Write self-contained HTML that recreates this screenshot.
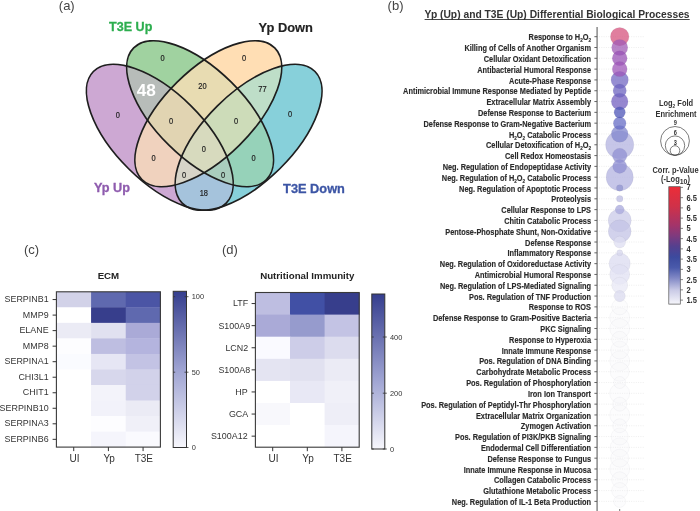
<!DOCTYPE html>
<html><head><meta charset="utf-8"><style>
html,body{margin:0;padding:0;background:#fff;}
svg{display:block;will-change:transform;}
</style></head><body>
<svg width="700" height="511" viewBox="0 0 700 511" font-family="Liberation Sans, sans-serif">
<rect width="700" height="511" fill="#fff"/>
<defs><clipPath id="cP"><ellipse cx="0" cy="0" rx="93.5" ry="44.3" transform="translate(159.80,137.30) rotate(44.74)" /></clipPath><clipPath id="cG"><ellipse cx="0" cy="0" rx="93.5" ry="44.3" transform="translate(200.10,113.70) rotate(44.73)" /></clipPath><clipPath id="cO"><ellipse cx="0" cy="0" rx="93.5" ry="44.3" transform="translate(208.30,113.70) rotate(-44.73)" /></clipPath><clipPath id="cC"><ellipse cx="0" cy="0" rx="93.5" ry="44.3" transform="translate(248.60,137.30) rotate(-44.74)" /></clipPath></defs>
<ellipse cx="0" cy="0" rx="93.5" ry="44.3" transform="translate(159.80,137.30) rotate(44.74)" fill="#CDA8D3"/>
<ellipse cx="0" cy="0" rx="93.5" ry="44.3" transform="translate(200.10,113.70) rotate(44.73)" fill="#A0D2A0"/>
<ellipse cx="0" cy="0" rx="93.5" ry="44.3" transform="translate(208.30,113.70) rotate(-44.73)" fill="#FFDEB4"/>
<ellipse cx="0" cy="0" rx="93.5" ry="44.3" transform="translate(248.60,137.30) rotate(-44.74)" fill="#87D0DA"/>
<g clip-path="url(#cG)"><ellipse cx="0" cy="0" rx="93.5" ry="44.3" transform="translate(159.80,137.30) rotate(44.74)" fill="#B7BCB9"/></g>
<g clip-path="url(#cO)"><ellipse cx="0" cy="0" rx="93.5" ry="44.3" transform="translate(159.80,137.30) rotate(44.74)" fill="#F0D2BE"/></g>
<g clip-path="url(#cC)"><ellipse cx="0" cy="0" rx="93.5" ry="44.3" transform="translate(159.80,137.30) rotate(44.74)" fill="#A5C3DC"/></g>
<g clip-path="url(#cO)"><ellipse cx="0" cy="0" rx="93.5" ry="44.3" transform="translate(200.10,113.70) rotate(44.73)" fill="#E8DCB2"/></g>
<g clip-path="url(#cC)"><ellipse cx="0" cy="0" rx="93.5" ry="44.3" transform="translate(200.10,113.70) rotate(44.73)" fill="#96D2B9"/></g>
<g clip-path="url(#cC)"><ellipse cx="0" cy="0" rx="93.5" ry="44.3" transform="translate(208.30,113.70) rotate(-44.73)" fill="#BEDEC8"/></g>
<g clip-path="url(#cO)"><g clip-path="url(#cG)"><ellipse cx="0" cy="0" rx="93.5" ry="44.3" transform="translate(159.80,137.30) rotate(44.74)" fill="#E1D4B2"/></g></g>
<g clip-path="url(#cC)"><g clip-path="url(#cG)"><ellipse cx="0" cy="0" rx="93.5" ry="44.3" transform="translate(159.80,137.30) rotate(44.74)" fill="#AACDBE"/></g></g>
<g clip-path="url(#cC)"><g clip-path="url(#cO)"><ellipse cx="0" cy="0" rx="93.5" ry="44.3" transform="translate(159.80,137.30) rotate(44.74)" fill="#D7D4C8"/></g></g>
<g clip-path="url(#cC)"><g clip-path="url(#cO)"><ellipse cx="0" cy="0" rx="93.5" ry="44.3" transform="translate(200.10,113.70) rotate(44.73)" fill="#CDDCB9"/></g></g>
<g clip-path="url(#cC)"><g clip-path="url(#cO)"><g clip-path="url(#cG)"><ellipse cx="0" cy="0" rx="93.5" ry="44.3" transform="translate(159.80,137.30) rotate(44.74)" fill="#D7DABE"/></g></g></g>
<ellipse cx="0" cy="0" rx="93.5" ry="44.3" transform="translate(159.80,137.30) rotate(44.74)" fill="none" stroke="#1e1e1e" stroke-width="1.7"/>
<ellipse cx="0" cy="0" rx="93.5" ry="44.3" transform="translate(200.10,113.70) rotate(44.73)" fill="none" stroke="#1e1e1e" stroke-width="1.7"/>
<ellipse cx="0" cy="0" rx="93.5" ry="44.3" transform="translate(208.30,113.70) rotate(-44.73)" fill="none" stroke="#1e1e1e" stroke-width="1.7"/>
<ellipse cx="0" cy="0" rx="93.5" ry="44.3" transform="translate(248.60,137.30) rotate(-44.74)" fill="none" stroke="#1e1e1e" stroke-width="1.7"/>
<text x="0" y="60.70" font-size="8.9" fill="#222" stroke="#222" stroke-width="0.2" text-anchor="middle" transform="translate(162.5,0) scale(0.84,1)" font-family="Liberation Sans, sans-serif">0</text>
<text x="0" y="61.10" font-size="8.9" fill="#222" stroke="#222" stroke-width="0.2" text-anchor="middle" transform="translate(244.1,0) scale(0.84,1)" font-family="Liberation Sans, sans-serif">0</text>
<text x="0" y="117.70" font-size="8.9" fill="#222" stroke="#222" stroke-width="0.2" text-anchor="middle" transform="translate(117.8,0) scale(0.84,1)" font-family="Liberation Sans, sans-serif">0</text>
<text x="0" y="117.20" font-size="8.9" fill="#222" stroke="#222" stroke-width="0.2" text-anchor="middle" transform="translate(290,0) scale(0.84,1)" font-family="Liberation Sans, sans-serif">0</text>
<text x="0" y="89.20" font-size="8.9" fill="#222" stroke="#222" stroke-width="0.2" text-anchor="middle" transform="translate(202.5,0) scale(0.84,1)" font-family="Liberation Sans, sans-serif">20</text>
<text x="0" y="92.20" font-size="8.9" fill="#222" stroke="#222" stroke-width="0.2" text-anchor="middle" transform="translate(262.5,0) scale(0.84,1)" font-family="Liberation Sans, sans-serif">77</text>
<text x="0" y="124.20" font-size="8.9" fill="#222" stroke="#222" stroke-width="0.2" text-anchor="middle" transform="translate(171,0) scale(0.84,1)" font-family="Liberation Sans, sans-serif">0</text>
<text x="0" y="124.20" font-size="8.9" fill="#222" stroke="#222" stroke-width="0.2" text-anchor="middle" transform="translate(236,0) scale(0.84,1)" font-family="Liberation Sans, sans-serif">0</text>
<text x="0" y="161.20" font-size="8.9" fill="#222" stroke="#222" stroke-width="0.2" text-anchor="middle" transform="translate(153.5,0) scale(0.84,1)" font-family="Liberation Sans, sans-serif">0</text>
<text x="0" y="152.20" font-size="8.9" fill="#222" stroke="#222" stroke-width="0.2" text-anchor="middle" transform="translate(203.8,0) scale(0.84,1)" font-family="Liberation Sans, sans-serif">0</text>
<text x="0" y="161.20" font-size="8.9" fill="#222" stroke="#222" stroke-width="0.2" text-anchor="middle" transform="translate(253.5,0) scale(0.84,1)" font-family="Liberation Sans, sans-serif">0</text>
<text x="0" y="178.20" font-size="8.9" fill="#222" stroke="#222" stroke-width="0.2" text-anchor="middle" transform="translate(184,0) scale(0.84,1)" font-family="Liberation Sans, sans-serif">0</text>
<text x="0" y="178.20" font-size="8.9" fill="#222" stroke="#222" stroke-width="0.2" text-anchor="middle" transform="translate(223,0) scale(0.84,1)" font-family="Liberation Sans, sans-serif">0</text>
<text x="0" y="196.20" font-size="8.9" fill="#222" stroke="#222" stroke-width="0.2" text-anchor="middle" transform="translate(203.8,0) scale(0.84,1)" font-family="Liberation Sans, sans-serif">18</text>
<text x="146.2" y="96.4" font-size="17.2" font-weight="bold" fill="#fff" text-anchor="middle" font-family="Liberation Sans, sans-serif">48</text>
<text x="58.8" y="10.1" font-size="13" fill="#444" font-family="Liberation Sans, sans-serif">(a)</text>
<text x="109.1" y="30.5" font-size="13.6" font-weight="bold" fill="#2DAE4F" stroke="#2DAE4F" stroke-width="0.3" textLength="43.2" lengthAdjust="spacingAndGlyphs" font-family="Liberation Sans, sans-serif">T3E Up</text>
<text x="258.6" y="32.1" font-size="12.9" font-weight="bold" fill="#222" stroke="#222" stroke-width="0.15" textLength="54.4" lengthAdjust="spacingAndGlyphs" font-family="Liberation Sans, sans-serif">Yp Down</text>
<text x="94" y="191.7" font-size="13.1" font-weight="bold" fill="#8E5BAE" stroke="#8E5BAE" stroke-width="0.3" textLength="36" lengthAdjust="spacingAndGlyphs" font-family="Liberation Sans, sans-serif">Yp Up</text>
<text x="283.1" y="192.7" font-size="13.2" font-weight="bold" fill="#3C55A5" stroke="#3C55A5" stroke-width="0.3" textLength="61.8" lengthAdjust="spacingAndGlyphs" font-family="Liberation Sans, sans-serif">T3E Down</text>
<defs><linearGradient id="gc" x1="0" y1="1" x2="0" y2="0"><stop offset="0" stop-color="#F7F7FC"/><stop offset="0.5" stop-color="#9EA3D2"/><stop offset="1" stop-color="#353E8E"/></linearGradient><linearGradient id="gd" x1="0" y1="1" x2="0" y2="0"><stop offset="0" stop-color="#F7F7FC"/><stop offset="0.45" stop-color="#9EA3D2"/><stop offset="1" stop-color="#353E8E"/></linearGradient></defs>
<text x="24" y="254.3" font-size="13" fill="#444" font-family="Liberation Sans, sans-serif">(c)</text>
<rect x="56.40" y="291.80" width="35.07" height="15.93" fill="#D2D2E8"/>
<rect x="91.07" y="291.80" width="35.07" height="15.93" fill="#5F69AF"/>
<rect x="125.73" y="291.80" width="35.07" height="15.93" fill="#4B55A5"/>
<rect x="56.40" y="307.33" width="35.07" height="15.93" fill="#FFFFFF"/>
<rect x="91.07" y="307.33" width="35.07" height="15.93" fill="#373E8C"/>
<rect x="125.73" y="307.33" width="35.07" height="15.93" fill="#5F69AF"/>
<rect x="56.40" y="322.86" width="35.07" height="15.93" fill="#EBEBF5"/>
<rect x="91.07" y="322.86" width="35.07" height="15.93" fill="#E1E1F0"/>
<rect x="125.73" y="322.86" width="35.07" height="15.93" fill="#AAAAD7"/>
<rect x="56.40" y="338.39" width="35.07" height="15.93" fill="#FDFDFF"/>
<rect x="91.07" y="338.39" width="35.07" height="15.93" fill="#BEBEE1"/>
<rect x="125.73" y="338.39" width="35.07" height="15.93" fill="#B4B4DE"/>
<rect x="56.40" y="353.92" width="35.07" height="15.93" fill="#FAFBFF"/>
<rect x="91.07" y="353.92" width="35.07" height="15.93" fill="#E6E6F4"/>
<rect x="125.73" y="353.92" width="35.07" height="15.93" fill="#C3C3E4"/>
<rect x="56.40" y="369.45" width="35.07" height="15.93" fill="#FFFFFF"/>
<rect x="91.07" y="369.45" width="35.07" height="15.93" fill="#D7D7EC"/>
<rect x="125.73" y="369.45" width="35.07" height="15.93" fill="#D2D2EA"/>
<rect x="56.40" y="384.98" width="35.07" height="15.93" fill="#FFFFFF"/>
<rect x="91.07" y="384.98" width="35.07" height="15.93" fill="#F3F3FA"/>
<rect x="125.73" y="384.98" width="35.07" height="15.93" fill="#D2D2EA"/>
<rect x="56.40" y="400.51" width="35.07" height="15.93" fill="#FFFFFF"/>
<rect x="91.07" y="400.51" width="35.07" height="15.93" fill="#F2F2FA"/>
<rect x="125.73" y="400.51" width="35.07" height="15.93" fill="#EBEBF5"/>
<rect x="56.40" y="416.04" width="35.07" height="15.93" fill="#FFFFFF"/>
<rect x="91.07" y="416.04" width="35.07" height="15.93" fill="#FDFDFF"/>
<rect x="125.73" y="416.04" width="35.07" height="15.93" fill="#F0F0F8"/>
<rect x="56.40" y="431.57" width="35.07" height="15.93" fill="#FFFFFF"/>
<rect x="91.07" y="431.57" width="35.07" height="15.93" fill="#F5F5FC"/>
<rect x="125.73" y="431.57" width="35.07" height="15.93" fill="#FAFAFE"/>
<rect x="56.4" y="291.8" width="104.0" height="155.3" fill="none" stroke="#3a3a3a" stroke-width="1.1"/>
<line x1="52.6" y1="299.56" x2="56.4" y2="299.56" stroke="#333" stroke-width="1"/>
<text x="0" y="302.06" font-size="9.1" fill="#333" text-anchor="end" transform="translate(48.6,0) scale(0.98,1)" font-family="Liberation Sans, sans-serif">SERPINB1</text>
<line x1="52.6" y1="315.10" x2="56.4" y2="315.10" stroke="#333" stroke-width="1"/>
<text x="0" y="317.60" font-size="9.1" fill="#333" text-anchor="end" transform="translate(48.6,0) scale(0.98,1)" font-family="Liberation Sans, sans-serif">MMP9</text>
<line x1="52.6" y1="330.62" x2="56.4" y2="330.62" stroke="#333" stroke-width="1"/>
<text x="0" y="333.12" font-size="9.1" fill="#333" text-anchor="end" transform="translate(48.6,0) scale(0.98,1)" font-family="Liberation Sans, sans-serif">ELANE</text>
<line x1="52.6" y1="346.16" x2="56.4" y2="346.16" stroke="#333" stroke-width="1"/>
<text x="0" y="348.66" font-size="9.1" fill="#333" text-anchor="end" transform="translate(48.6,0) scale(0.98,1)" font-family="Liberation Sans, sans-serif">MMP8</text>
<line x1="52.6" y1="361.69" x2="56.4" y2="361.69" stroke="#333" stroke-width="1"/>
<text x="0" y="364.19" font-size="9.1" fill="#333" text-anchor="end" transform="translate(48.6,0) scale(0.98,1)" font-family="Liberation Sans, sans-serif">SERPINA1</text>
<line x1="52.6" y1="377.22" x2="56.4" y2="377.22" stroke="#333" stroke-width="1"/>
<text x="0" y="379.72" font-size="9.1" fill="#333" text-anchor="end" transform="translate(48.6,0) scale(0.98,1)" font-family="Liberation Sans, sans-serif">CHI3L1</text>
<line x1="52.6" y1="392.75" x2="56.4" y2="392.75" stroke="#333" stroke-width="1"/>
<text x="0" y="395.25" font-size="9.1" fill="#333" text-anchor="end" transform="translate(48.6,0) scale(0.98,1)" font-family="Liberation Sans, sans-serif">CHIT1</text>
<line x1="52.6" y1="408.28" x2="56.4" y2="408.28" stroke="#333" stroke-width="1"/>
<text x="0" y="410.78" font-size="9.1" fill="#333" text-anchor="end" transform="translate(48.6,0) scale(0.98,1)" font-family="Liberation Sans, sans-serif">SERPINB10</text>
<line x1="52.6" y1="423.81" x2="56.4" y2="423.81" stroke="#333" stroke-width="1"/>
<text x="0" y="426.31" font-size="9.1" fill="#333" text-anchor="end" transform="translate(48.6,0) scale(0.98,1)" font-family="Liberation Sans, sans-serif">SERPINA3</text>
<line x1="52.6" y1="439.34" x2="56.4" y2="439.34" stroke="#333" stroke-width="1"/>
<text x="0" y="441.84" font-size="9.1" fill="#333" text-anchor="end" transform="translate(48.6,0) scale(0.98,1)" font-family="Liberation Sans, sans-serif">SERPINB6</text>
<line x1="73.73" y1="447.1" x2="73.73" y2="451.1" stroke="#333" stroke-width="1"/>
<text x="74.53" y="461.70" font-size="10" fill="#333" text-anchor="middle" font-family="Liberation Sans, sans-serif">UI</text>
<line x1="108.40" y1="447.1" x2="108.40" y2="451.1" stroke="#333" stroke-width="1"/>
<text x="109.20" y="461.70" font-size="10" fill="#333" text-anchor="middle" font-family="Liberation Sans, sans-serif">Yp</text>
<line x1="143.07" y1="447.1" x2="143.07" y2="451.1" stroke="#333" stroke-width="1"/>
<text x="143.87" y="461.70" font-size="10" fill="#333" text-anchor="middle" font-family="Liberation Sans, sans-serif">T3E</text>
<text x="108.40" y="278.6" font-size="9.7" font-weight="bold" fill="#222" text-anchor="middle" font-family="Liberation Sans, sans-serif">ECM</text>
<rect x="173.2" y="291.3" width="13.300000000000011" height="156.2" fill="url(#gc)" stroke="#333" stroke-width="1"/>
<line x1="173.2" y1="296.7" x2="175.2" y2="296.7" stroke="#333" stroke-width="0.8"/>
<line x1="184.5" y1="296.7" x2="188.5" y2="296.7" stroke="#333" stroke-width="0.8"/>
<text x="191.7" y="299.3" font-size="7.4" fill="#333" font-family="Liberation Sans, sans-serif">100</text>
<line x1="173.2" y1="372.2" x2="175.2" y2="372.2" stroke="#333" stroke-width="0.8"/>
<line x1="184.5" y1="372.2" x2="188.5" y2="372.2" stroke="#333" stroke-width="0.8"/>
<text x="191.7" y="374.8" font-size="7.4" fill="#333" font-family="Liberation Sans, sans-serif">50</text>
<line x1="173.2" y1="447.5" x2="175.2" y2="447.5" stroke="#333" stroke-width="0.8"/>
<line x1="184.5" y1="447.5" x2="188.5" y2="447.5" stroke="#333" stroke-width="0.8"/>
<text x="191.7" y="450.1" font-size="7.4" fill="#333" font-family="Liberation Sans, sans-serif">0</text>
<text x="222" y="254.3" font-size="13" fill="#444" font-family="Liberation Sans, sans-serif">(d)</text>
<rect x="255.40" y="292.50" width="35.00" height="22.50" fill="#BEBEE1"/>
<rect x="290.00" y="292.50" width="35.00" height="22.50" fill="#4150A5"/>
<rect x="324.60" y="292.50" width="35.00" height="22.50" fill="#373E8C"/>
<rect x="255.40" y="314.60" width="35.00" height="22.50" fill="#AAAAD7"/>
<rect x="290.00" y="314.60" width="35.00" height="22.50" fill="#969BCD"/>
<rect x="324.60" y="314.60" width="35.00" height="22.50" fill="#C3C3E4"/>
<rect x="255.40" y="336.70" width="35.00" height="22.50" fill="#FAFAFF"/>
<rect x="290.00" y="336.70" width="35.00" height="22.50" fill="#CDCDE8"/>
<rect x="324.60" y="336.70" width="35.00" height="22.50" fill="#DCDCEE"/>
<rect x="255.40" y="358.80" width="35.00" height="22.50" fill="#E4E4F2"/>
<rect x="290.00" y="358.80" width="35.00" height="22.50" fill="#E1E1F0"/>
<rect x="324.60" y="358.80" width="35.00" height="22.50" fill="#EBEBF5"/>
<rect x="255.40" y="380.90" width="35.00" height="22.50" fill="#FFFFFF"/>
<rect x="290.00" y="380.90" width="35.00" height="22.50" fill="#E8E8F5"/>
<rect x="324.60" y="380.90" width="35.00" height="22.50" fill="#F0F0F8"/>
<rect x="255.40" y="403.00" width="35.00" height="22.50" fill="#F8F8FC"/>
<rect x="290.00" y="403.00" width="35.00" height="22.50" fill="#FFFFFF"/>
<rect x="324.60" y="403.00" width="35.00" height="22.50" fill="#EEEEF7"/>
<rect x="255.40" y="425.10" width="35.00" height="22.50" fill="#FFFFFF"/>
<rect x="290.00" y="425.10" width="35.00" height="22.50" fill="#FFFFFF"/>
<rect x="324.60" y="425.10" width="35.00" height="22.50" fill="#F5F5FC"/>
<rect x="255.4" y="292.5" width="103.79999999999998" height="154.7" fill="none" stroke="#3a3a3a" stroke-width="1.1"/>
<line x1="251.6" y1="303.55" x2="255.4" y2="303.55" stroke="#333" stroke-width="1"/>
<text x="0" y="306.45" font-size="9.1" fill="#333" text-anchor="end" transform="translate(248.2,0) scale(0.98,1)" font-family="Liberation Sans, sans-serif">LTF</text>
<line x1="251.6" y1="325.65" x2="255.4" y2="325.65" stroke="#333" stroke-width="1"/>
<text x="0" y="328.55" font-size="9.1" fill="#333" text-anchor="end" transform="translate(250.1,0) scale(0.98,1)" font-family="Liberation Sans, sans-serif">S100A9</text>
<line x1="251.6" y1="347.75" x2="255.4" y2="347.75" stroke="#333" stroke-width="1"/>
<text x="0" y="350.65" font-size="9.1" fill="#333" text-anchor="end" transform="translate(248.2,0) scale(0.98,1)" font-family="Liberation Sans, sans-serif">LCN2</text>
<line x1="251.6" y1="369.85" x2="255.4" y2="369.85" stroke="#333" stroke-width="1"/>
<text x="0" y="372.75" font-size="9.1" fill="#333" text-anchor="end" transform="translate(250.1,0) scale(0.98,1)" font-family="Liberation Sans, sans-serif">S100A8</text>
<line x1="251.6" y1="391.95" x2="255.4" y2="391.95" stroke="#333" stroke-width="1"/>
<text x="0" y="394.85" font-size="9.1" fill="#333" text-anchor="end" transform="translate(247.6,0) scale(0.98,1)" font-family="Liberation Sans, sans-serif">HP</text>
<line x1="251.6" y1="414.05" x2="255.4" y2="414.05" stroke="#333" stroke-width="1"/>
<text x="0" y="416.95" font-size="9.1" fill="#333" text-anchor="end" transform="translate(248.2,0) scale(0.98,1)" font-family="Liberation Sans, sans-serif">GCA</text>
<line x1="251.6" y1="436.15" x2="255.4" y2="436.15" stroke="#333" stroke-width="1"/>
<text x="0" y="439.05" font-size="9.1" fill="#333" text-anchor="end" transform="translate(247.6,0) scale(0.98,1)" font-family="Liberation Sans, sans-serif">S100A12</text>
<line x1="272.70" y1="447.2" x2="272.70" y2="451.2" stroke="#333" stroke-width="1"/>
<text x="273.50" y="461.80" font-size="10" fill="#333" text-anchor="middle" font-family="Liberation Sans, sans-serif">UI</text>
<line x1="307.30" y1="447.2" x2="307.30" y2="451.2" stroke="#333" stroke-width="1"/>
<text x="308.10" y="461.80" font-size="10" fill="#333" text-anchor="middle" font-family="Liberation Sans, sans-serif">Yp</text>
<line x1="341.90" y1="447.2" x2="341.90" y2="451.2" stroke="#333" stroke-width="1"/>
<text x="342.70" y="461.80" font-size="10" fill="#333" text-anchor="middle" font-family="Liberation Sans, sans-serif">T3E</text>
<text x="307.30" y="278.7" font-size="9.7" font-weight="bold" fill="#222" text-anchor="middle" font-family="Liberation Sans, sans-serif">Nutritional Immunity</text>
<rect x="371.8" y="294" width="13.0" height="155" fill="url(#gd)" stroke="#333" stroke-width="1"/>
<line x1="371.8" y1="337" x2="373.8" y2="337" stroke="#333" stroke-width="0.8"/>
<line x1="382.8" y1="337" x2="386.8" y2="337" stroke="#333" stroke-width="0.8"/>
<text x="390.0" y="339.6" font-size="7.4" fill="#333" font-family="Liberation Sans, sans-serif">400</text>
<line x1="371.8" y1="393.2" x2="373.8" y2="393.2" stroke="#333" stroke-width="0.8"/>
<line x1="382.8" y1="393.2" x2="386.8" y2="393.2" stroke="#333" stroke-width="0.8"/>
<text x="390.0" y="395.8" font-size="7.4" fill="#333" font-family="Liberation Sans, sans-serif">200</text>
<line x1="371.8" y1="449" x2="373.8" y2="449" stroke="#333" stroke-width="0.8"/>
<line x1="382.8" y1="449" x2="386.8" y2="449" stroke="#333" stroke-width="0.8"/>
<text x="390.0" y="451.6" font-size="7.4" fill="#333" font-family="Liberation Sans, sans-serif">0</text>
<text x="387.6" y="10" font-size="13" fill="#444" font-family="Liberation Sans, sans-serif">(b)</text>
<text x="424.6" y="17.5" font-size="10.3" font-weight="bold" fill="#333" textLength="265" lengthAdjust="spacingAndGlyphs" font-family="Liberation Sans, sans-serif">Yp (Up) and T3E (Up) Differential Biological Processes</text>
<line x1="424.6" y1="19.5" x2="689.7" y2="19.5" stroke="#333" stroke-width="0.9"/>
<line x1="599" y1="36.70" x2="645" y2="36.70" stroke="#e6e6e6" stroke-width="0.7" stroke-dasharray="1,1.3"/>
<line x1="599" y1="47.51" x2="645" y2="47.51" stroke="#e6e6e6" stroke-width="0.7" stroke-dasharray="1,1.3"/>
<line x1="599" y1="58.31" x2="645" y2="58.31" stroke="#e6e6e6" stroke-width="0.7" stroke-dasharray="1,1.3"/>
<line x1="599" y1="69.12" x2="645" y2="69.12" stroke="#e6e6e6" stroke-width="0.7" stroke-dasharray="1,1.3"/>
<line x1="599" y1="79.93" x2="645" y2="79.93" stroke="#e6e6e6" stroke-width="0.7" stroke-dasharray="1,1.3"/>
<line x1="599" y1="90.74" x2="645" y2="90.74" stroke="#e6e6e6" stroke-width="0.7" stroke-dasharray="1,1.3"/>
<line x1="599" y1="101.54" x2="645" y2="101.54" stroke="#e6e6e6" stroke-width="0.7" stroke-dasharray="1,1.3"/>
<line x1="599" y1="112.35" x2="645" y2="112.35" stroke="#e6e6e6" stroke-width="0.7" stroke-dasharray="1,1.3"/>
<line x1="599" y1="123.16" x2="645" y2="123.16" stroke="#e6e6e6" stroke-width="0.7" stroke-dasharray="1,1.3"/>
<line x1="599" y1="133.96" x2="645" y2="133.96" stroke="#e6e6e6" stroke-width="0.7" stroke-dasharray="1,1.3"/>
<line x1="599" y1="144.77" x2="645" y2="144.77" stroke="#e6e6e6" stroke-width="0.7" stroke-dasharray="1,1.3"/>
<line x1="599" y1="155.58" x2="645" y2="155.58" stroke="#e6e6e6" stroke-width="0.7" stroke-dasharray="1,1.3"/>
<line x1="599" y1="166.38" x2="645" y2="166.38" stroke="#e6e6e6" stroke-width="0.7" stroke-dasharray="1,1.3"/>
<line x1="599" y1="177.19" x2="645" y2="177.19" stroke="#e6e6e6" stroke-width="0.7" stroke-dasharray="1,1.3"/>
<line x1="599" y1="188.00" x2="645" y2="188.00" stroke="#e6e6e6" stroke-width="0.7" stroke-dasharray="1,1.3"/>
<line x1="599" y1="198.81" x2="645" y2="198.81" stroke="#e6e6e6" stroke-width="0.7" stroke-dasharray="1,1.3"/>
<line x1="599" y1="209.61" x2="645" y2="209.61" stroke="#e6e6e6" stroke-width="0.7" stroke-dasharray="1,1.3"/>
<line x1="599" y1="220.42" x2="645" y2="220.42" stroke="#e6e6e6" stroke-width="0.7" stroke-dasharray="1,1.3"/>
<line x1="599" y1="231.23" x2="645" y2="231.23" stroke="#e6e6e6" stroke-width="0.7" stroke-dasharray="1,1.3"/>
<line x1="599" y1="242.03" x2="645" y2="242.03" stroke="#e6e6e6" stroke-width="0.7" stroke-dasharray="1,1.3"/>
<line x1="599" y1="252.84" x2="645" y2="252.84" stroke="#e6e6e6" stroke-width="0.7" stroke-dasharray="1,1.3"/>
<line x1="599" y1="263.65" x2="645" y2="263.65" stroke="#e6e6e6" stroke-width="0.7" stroke-dasharray="1,1.3"/>
<line x1="599" y1="274.45" x2="645" y2="274.45" stroke="#e6e6e6" stroke-width="0.7" stroke-dasharray="1,1.3"/>
<line x1="599" y1="285.26" x2="645" y2="285.26" stroke="#e6e6e6" stroke-width="0.7" stroke-dasharray="1,1.3"/>
<line x1="599" y1="296.07" x2="645" y2="296.07" stroke="#e6e6e6" stroke-width="0.7" stroke-dasharray="1,1.3"/>
<line x1="599" y1="306.88" x2="645" y2="306.88" stroke="#e6e6e6" stroke-width="0.7" stroke-dasharray="1,1.3"/>
<line x1="599" y1="317.68" x2="645" y2="317.68" stroke="#e6e6e6" stroke-width="0.7" stroke-dasharray="1,1.3"/>
<line x1="599" y1="328.49" x2="645" y2="328.49" stroke="#e6e6e6" stroke-width="0.7" stroke-dasharray="1,1.3"/>
<line x1="599" y1="339.30" x2="645" y2="339.30" stroke="#e6e6e6" stroke-width="0.7" stroke-dasharray="1,1.3"/>
<line x1="599" y1="350.10" x2="645" y2="350.10" stroke="#e6e6e6" stroke-width="0.7" stroke-dasharray="1,1.3"/>
<line x1="599" y1="360.91" x2="645" y2="360.91" stroke="#e6e6e6" stroke-width="0.7" stroke-dasharray="1,1.3"/>
<line x1="599" y1="371.72" x2="645" y2="371.72" stroke="#e6e6e6" stroke-width="0.7" stroke-dasharray="1,1.3"/>
<line x1="599" y1="382.52" x2="645" y2="382.52" stroke="#e6e6e6" stroke-width="0.7" stroke-dasharray="1,1.3"/>
<line x1="599" y1="393.33" x2="645" y2="393.33" stroke="#e6e6e6" stroke-width="0.7" stroke-dasharray="1,1.3"/>
<line x1="599" y1="404.14" x2="645" y2="404.14" stroke="#e6e6e6" stroke-width="0.7" stroke-dasharray="1,1.3"/>
<line x1="599" y1="414.94" x2="645" y2="414.94" stroke="#e6e6e6" stroke-width="0.7" stroke-dasharray="1,1.3"/>
<line x1="599" y1="425.75" x2="645" y2="425.75" stroke="#e6e6e6" stroke-width="0.7" stroke-dasharray="1,1.3"/>
<line x1="599" y1="436.56" x2="645" y2="436.56" stroke="#e6e6e6" stroke-width="0.7" stroke-dasharray="1,1.3"/>
<line x1="599" y1="447.37" x2="645" y2="447.37" stroke="#e6e6e6" stroke-width="0.7" stroke-dasharray="1,1.3"/>
<line x1="599" y1="458.17" x2="645" y2="458.17" stroke="#e6e6e6" stroke-width="0.7" stroke-dasharray="1,1.3"/>
<line x1="599" y1="468.98" x2="645" y2="468.98" stroke="#e6e6e6" stroke-width="0.7" stroke-dasharray="1,1.3"/>
<line x1="599" y1="479.79" x2="645" y2="479.79" stroke="#e6e6e6" stroke-width="0.7" stroke-dasharray="1,1.3"/>
<line x1="599" y1="490.59" x2="645" y2="490.59" stroke="#e6e6e6" stroke-width="0.7" stroke-dasharray="1,1.3"/>
<line x1="599" y1="501.40" x2="645" y2="501.40" stroke="#e6e6e6" stroke-width="0.7" stroke-dasharray="1,1.3"/>
<circle cx="619.7" cy="144.77" r="14.1" fill="rgb(179, 179, 224)" fill-opacity="0.75" stroke="rgba(90,90,110,0.10)" stroke-width="0.6"/>
<circle cx="619.7" cy="177.19" r="13.6" fill="rgb(179, 179, 224)" fill-opacity="0.75" stroke="rgba(90,90,110,0.10)" stroke-width="0.6"/>
<circle cx="619.7" cy="220.42" r="11.5" fill="rgb(202, 202, 232)" fill-opacity="0.75" stroke="rgba(90,90,110,0.10)" stroke-width="0.6"/>
<circle cx="619.7" cy="231.23" r="11.4" fill="rgb(195, 195, 230)" fill-opacity="0.75" stroke="rgba(90,90,110,0.10)" stroke-width="0.6"/>
<circle cx="619.7" cy="263.65" r="10.6" fill="rgb(219, 219, 240)" fill-opacity="0.75" stroke="rgba(90,90,110,0.10)" stroke-width="0.6"/>
<circle cx="619.7" cy="274.45" r="10" fill="rgb(224, 224, 243)" fill-opacity="0.75" stroke="rgba(90,90,110,0.10)" stroke-width="0.6"/>
<circle cx="619.7" cy="317.68" r="10" fill="#f4f4f8" fill-opacity="0.25" stroke="rgba(90,90,110,0.08)" stroke-width="0.6"/>
<circle cx="619.7" cy="328.49" r="10" fill="#f4f4f8" fill-opacity="0.25" stroke="rgba(90,90,110,0.08)" stroke-width="0.6"/>
<circle cx="619.7" cy="360.91" r="10" fill="#f4f4f8" fill-opacity="0.25" stroke="rgba(90,90,110,0.08)" stroke-width="0.6"/>
<circle cx="619.7" cy="393.33" r="10" fill="#f4f4f8" fill-opacity="0.25" stroke="rgba(90,90,110,0.08)" stroke-width="0.6"/>
<circle cx="619.7" cy="414.94" r="10" fill="#f4f4f8" fill-opacity="0.25" stroke="rgba(90,90,110,0.08)" stroke-width="0.6"/>
<circle cx="619.7" cy="468.98" r="10" fill="#f4f4f8" fill-opacity="0.25" stroke="rgba(90,90,110,0.08)" stroke-width="0.6"/>
<circle cx="619.7" cy="371.72" r="9.5" fill="#f4f4f8" fill-opacity="0.25" stroke="rgba(90,90,110,0.08)" stroke-width="0.6"/>
<circle cx="619.7" cy="447.37" r="9.5" fill="#f4f4f8" fill-opacity="0.25" stroke="rgba(90,90,110,0.08)" stroke-width="0.6"/>
<circle cx="619.7" cy="36.70" r="9.3" fill="rgb(214, 83, 126)" fill-opacity="0.75" stroke="rgba(90,90,110,0.10)" stroke-width="0.6"/>
<circle cx="619.7" cy="350.10" r="9" fill="#f4f4f8" fill-opacity="0.25" stroke="rgba(90,90,110,0.08)" stroke-width="0.6"/>
<circle cx="619.7" cy="458.17" r="9" fill="#f4f4f8" fill-opacity="0.25" stroke="rgba(90,90,110,0.08)" stroke-width="0.6"/>
<circle cx="619.7" cy="79.93" r="8.7" fill="rgb(115, 104, 195)" fill-opacity="0.75" stroke="rgba(90,90,110,0.10)" stroke-width="0.6"/>
<circle cx="619.7" cy="436.56" r="8.5" fill="#f4f4f8" fill-opacity="0.25" stroke="rgba(90,90,110,0.08)" stroke-width="0.6"/>
<circle cx="619.7" cy="101.54" r="8.4" fill="rgb(115, 95, 192)" fill-opacity="0.75" stroke="rgba(90,90,110,0.10)" stroke-width="0.6"/>
<circle cx="619.7" cy="133.96" r="8.4" fill="rgb(128, 134, 206)" fill-opacity="0.75" stroke="rgba(90,90,110,0.10)" stroke-width="0.6"/>
<circle cx="619.7" cy="47.51" r="8.1" fill="rgb(160, 91, 182)" fill-opacity="0.75" stroke="rgba(90,90,110,0.10)" stroke-width="0.6"/>
<circle cx="619.7" cy="285.26" r="8" fill="rgb(232, 232, 246)" fill-opacity="0.75" stroke="rgba(90,90,110,0.10)" stroke-width="0.6"/>
<circle cx="619.7" cy="306.88" r="8" fill="#f4f4f8" fill-opacity="0.25" stroke="rgba(90,90,110,0.08)" stroke-width="0.6"/>
<circle cx="619.7" cy="339.30" r="8" fill="#f4f4f8" fill-opacity="0.25" stroke="rgba(90,90,110,0.08)" stroke-width="0.6"/>
<circle cx="619.7" cy="479.79" r="8" fill="#f4f4f8" fill-opacity="0.25" stroke="rgba(90,90,110,0.08)" stroke-width="0.6"/>
<circle cx="619.7" cy="490.59" r="8" fill="#f4f4f8" fill-opacity="0.25" stroke="rgba(90,90,110,0.08)" stroke-width="0.6"/>
<circle cx="619.7" cy="58.31" r="7.5" fill="rgb(152, 82, 182)" fill-opacity="0.75" stroke="rgba(90,90,110,0.10)" stroke-width="0.6"/>
<circle cx="619.7" cy="69.12" r="7.5" fill="rgb(158, 86, 184)" fill-opacity="0.75" stroke="rgba(90,90,110,0.10)" stroke-width="0.6"/>
<circle cx="619.7" cy="155.58" r="7.3" fill="rgb(144, 144, 211)" fill-opacity="0.75" stroke="rgba(90,90,110,0.10)" stroke-width="0.6"/>
<circle cx="619.7" cy="166.38" r="7.0" fill="rgb(142, 142, 210)" fill-opacity="0.75" stroke="rgba(90,90,110,0.10)" stroke-width="0.6"/>
<circle cx="619.7" cy="404.14" r="7" fill="#f4f4f8" fill-opacity="0.25" stroke="rgba(90,90,110,0.08)" stroke-width="0.6"/>
<circle cx="619.7" cy="425.75" r="7" fill="#f4f4f8" fill-opacity="0.25" stroke="rgba(90,90,110,0.08)" stroke-width="0.6"/>
<circle cx="619.7" cy="90.74" r="6.7" fill="rgb(108, 99, 192)" fill-opacity="0.75" stroke="rgba(90,90,110,0.10)" stroke-width="0.6"/>
<circle cx="619.7" cy="123.16" r="6.4" fill="rgb(102, 108, 198)" fill-opacity="0.75" stroke="rgba(90,90,110,0.10)" stroke-width="0.6"/>
<circle cx="619.7" cy="382.52" r="6" fill="#f4f4f8" fill-opacity="0.25" stroke="rgba(90,90,110,0.08)" stroke-width="0.6"/>
<circle cx="619.7" cy="501.40" r="6" fill="#f4f4f8" fill-opacity="0.25" stroke="rgba(90,90,110,0.08)" stroke-width="0.6"/>
<circle cx="619.7" cy="242.03" r="5.9" fill="rgb(222, 222, 242)" fill-opacity="0.75" stroke="rgba(90,90,110,0.10)" stroke-width="0.6"/>
<circle cx="619.7" cy="112.35" r="5.7" fill="rgb(78, 86, 184)" fill-opacity="0.75" stroke="rgba(90,90,110,0.10)" stroke-width="0.6"/>
<circle cx="619.7" cy="296.07" r="5.6" fill="rgb(219, 219, 239)" fill-opacity="0.75" stroke="rgba(90,90,110,0.10)" stroke-width="0.6"/>
<circle cx="619.7" cy="209.61" r="4.5" fill="rgb(168, 168, 220)" fill-opacity="0.75" stroke="rgba(90,90,110,0.10)" stroke-width="0.6"/>
<circle cx="619.7" cy="188.00" r="3.3" fill="rgb(144, 148, 208)" fill-opacity="0.75" stroke="rgba(90,90,110,0.10)" stroke-width="0.6"/>
<circle cx="619.7" cy="198.81" r="3.3" fill="rgb(188, 188, 227)" fill-opacity="0.75" stroke="rgba(90,90,110,0.10)" stroke-width="0.6"/>
<circle cx="619.7" cy="252.84" r="3.0" fill="rgb(215, 215, 238)" fill-opacity="0.75" stroke="rgba(90,90,110,0.10)" stroke-width="0.6"/>
<line x1="597.1" y1="27" x2="597.1" y2="511" stroke="#8a8a8a" stroke-width="1.5"/>
<g transform="translate(591,0) scale(0.83,1)">
<text x="0" y="40.30" font-size="8.9" font-weight="bold" fill="#2b2b2b" stroke="#2b2b2b" stroke-width="0.15" text-anchor="end" font-family="Liberation Sans, sans-serif">Response to H<tspan font-size="5.5" dy="2">2</tspan><tspan dy="-2">O</tspan><tspan font-size="5.5" dy="2">2</tspan></text>
<text x="0" y="51.11" font-size="8.9" font-weight="bold" fill="#2b2b2b" stroke="#2b2b2b" stroke-width="0.15" text-anchor="end" font-family="Liberation Sans, sans-serif">Killing of Cells of Another Organism</text>
<text x="0" y="61.91" font-size="8.9" font-weight="bold" fill="#2b2b2b" stroke="#2b2b2b" stroke-width="0.15" text-anchor="end" font-family="Liberation Sans, sans-serif">Cellular Oxidant Detoxification</text>
<text x="0" y="72.72" font-size="8.9" font-weight="bold" fill="#2b2b2b" stroke="#2b2b2b" stroke-width="0.15" text-anchor="end" font-family="Liberation Sans, sans-serif">Antibacterial Humoral Response</text>
<text x="0" y="83.53" font-size="8.9" font-weight="bold" fill="#2b2b2b" stroke="#2b2b2b" stroke-width="0.15" text-anchor="end" font-family="Liberation Sans, sans-serif">Acute-Phase Response</text>
<text x="0" y="94.34" font-size="8.9" font-weight="bold" fill="#2b2b2b" stroke="#2b2b2b" stroke-width="0.15" text-anchor="end" font-family="Liberation Sans, sans-serif">Antimicrobial Immune Response Mediated by Peptide</text>
<text x="0" y="105.14" font-size="8.9" font-weight="bold" fill="#2b2b2b" stroke="#2b2b2b" stroke-width="0.15" text-anchor="end" font-family="Liberation Sans, sans-serif">Extracellular Matrix Assembly</text>
<text x="0" y="115.95" font-size="8.9" font-weight="bold" fill="#2b2b2b" stroke="#2b2b2b" stroke-width="0.15" text-anchor="end" font-family="Liberation Sans, sans-serif">Defense Response to Bacterium</text>
<text x="0" y="126.76" font-size="8.9" font-weight="bold" fill="#2b2b2b" stroke="#2b2b2b" stroke-width="0.15" text-anchor="end" font-family="Liberation Sans, sans-serif">Defense Response to Gram-Negative Bacterium</text>
<text x="0" y="137.56" font-size="8.9" font-weight="bold" fill="#2b2b2b" stroke="#2b2b2b" stroke-width="0.15" text-anchor="end" font-family="Liberation Sans, sans-serif">H<tspan font-size="5.5" dy="2">2</tspan><tspan dy="-2">O</tspan><tspan font-size="5.5" dy="2">2</tspan><tspan dy="-2"> Catabolic Process</tspan></text>
<text x="0" y="148.37" font-size="8.9" font-weight="bold" fill="#2b2b2b" stroke="#2b2b2b" stroke-width="0.15" text-anchor="end" font-family="Liberation Sans, sans-serif">Cellular Detoxification of H<tspan font-size="5.5" dy="2">2</tspan><tspan dy="-2">O</tspan><tspan font-size="5.5" dy="2">2</tspan></text>
<text x="0" y="159.18" font-size="8.9" font-weight="bold" fill="#2b2b2b" stroke="#2b2b2b" stroke-width="0.15" text-anchor="end" font-family="Liberation Sans, sans-serif">Cell Redox Homeostasis</text>
<text x="0" y="169.98" font-size="8.9" font-weight="bold" fill="#2b2b2b" stroke="#2b2b2b" stroke-width="0.15" text-anchor="end" font-family="Liberation Sans, sans-serif">Neg. Regulation of Endopeptidase Activity</text>
<text x="0" y="180.79" font-size="8.9" font-weight="bold" fill="#2b2b2b" stroke="#2b2b2b" stroke-width="0.15" text-anchor="end" font-family="Liberation Sans, sans-serif">Neg. Regulation of H<tspan font-size="5.5" dy="2">2</tspan><tspan dy="-2">O</tspan><tspan font-size="5.5" dy="2">2</tspan><tspan dy="-2"> Catabolic Process</tspan></text>
<text x="0" y="191.60" font-size="8.9" font-weight="bold" fill="#2b2b2b" stroke="#2b2b2b" stroke-width="0.15" text-anchor="end" font-family="Liberation Sans, sans-serif">Neg. Regulation of Apoptotic Process</text>
<text x="0" y="202.41" font-size="8.9" font-weight="bold" fill="#2b2b2b" stroke="#2b2b2b" stroke-width="0.15" text-anchor="end" font-family="Liberation Sans, sans-serif">Proteolysis</text>
<text x="0" y="213.21" font-size="8.9" font-weight="bold" fill="#2b2b2b" stroke="#2b2b2b" stroke-width="0.15" text-anchor="end" font-family="Liberation Sans, sans-serif">Cellular Response to LPS</text>
<text x="0" y="224.02" font-size="8.9" font-weight="bold" fill="#2b2b2b" stroke="#2b2b2b" stroke-width="0.15" text-anchor="end" font-family="Liberation Sans, sans-serif">Chitin Catabolic Process</text>
<text x="0" y="234.83" font-size="8.9" font-weight="bold" fill="#2b2b2b" stroke="#2b2b2b" stroke-width="0.15" text-anchor="end" font-family="Liberation Sans, sans-serif">Pentose-Phosphate Shunt, Non-Oxidative</text>
<text x="0" y="245.63" font-size="8.9" font-weight="bold" fill="#2b2b2b" stroke="#2b2b2b" stroke-width="0.15" text-anchor="end" font-family="Liberation Sans, sans-serif">Defense Response</text>
<text x="0" y="256.44" font-size="8.9" font-weight="bold" fill="#2b2b2b" stroke="#2b2b2b" stroke-width="0.15" text-anchor="end" font-family="Liberation Sans, sans-serif">Inflammatory Response</text>
<text x="0" y="267.25" font-size="8.9" font-weight="bold" fill="#2b2b2b" stroke="#2b2b2b" stroke-width="0.15" text-anchor="end" font-family="Liberation Sans, sans-serif">Neg. Regulation of Oxidoreductase Activity</text>
<text x="0" y="278.05" font-size="8.9" font-weight="bold" fill="#2b2b2b" stroke="#2b2b2b" stroke-width="0.15" text-anchor="end" font-family="Liberation Sans, sans-serif">Antimicrobial Humoral Response</text>
<text x="0" y="288.86" font-size="8.9" font-weight="bold" fill="#2b2b2b" stroke="#2b2b2b" stroke-width="0.15" text-anchor="end" font-family="Liberation Sans, sans-serif">Neg. Regulation of LPS-Mediated Signaling</text>
<text x="0" y="299.67" font-size="8.9" font-weight="bold" fill="#2b2b2b" stroke="#2b2b2b" stroke-width="0.15" text-anchor="end" font-family="Liberation Sans, sans-serif">Pos. Regulation of TNF Production</text>
<text x="0" y="310.48" font-size="8.9" font-weight="bold" fill="#2b2b2b" stroke="#2b2b2b" stroke-width="0.15" text-anchor="end" font-family="Liberation Sans, sans-serif">Response to ROS</text>
<text x="0" y="321.28" font-size="8.9" font-weight="bold" fill="#2b2b2b" stroke="#2b2b2b" stroke-width="0.15" text-anchor="end" font-family="Liberation Sans, sans-serif">Defense Response to Gram-Positive Bacteria</text>
<text x="0" y="332.09" font-size="8.9" font-weight="bold" fill="#2b2b2b" stroke="#2b2b2b" stroke-width="0.15" text-anchor="end" font-family="Liberation Sans, sans-serif">PKC Signaling</text>
<text x="0" y="342.90" font-size="8.9" font-weight="bold" fill="#2b2b2b" stroke="#2b2b2b" stroke-width="0.15" text-anchor="end" font-family="Liberation Sans, sans-serif">Response to Hyperoxia</text>
<text x="0" y="353.70" font-size="8.9" font-weight="bold" fill="#2b2b2b" stroke="#2b2b2b" stroke-width="0.15" text-anchor="end" font-family="Liberation Sans, sans-serif">Innate Immune Response</text>
<text x="0" y="364.51" font-size="8.9" font-weight="bold" fill="#2b2b2b" stroke="#2b2b2b" stroke-width="0.15" text-anchor="end" font-family="Liberation Sans, sans-serif">Pos. Regulation of DNA Binding</text>
<text x="0" y="375.32" font-size="8.9" font-weight="bold" fill="#2b2b2b" stroke="#2b2b2b" stroke-width="0.15" text-anchor="end" font-family="Liberation Sans, sans-serif">Carbohydrate Metabolic Process</text>
<text x="0" y="386.12" font-size="8.9" font-weight="bold" fill="#2b2b2b" stroke="#2b2b2b" stroke-width="0.15" text-anchor="end" font-family="Liberation Sans, sans-serif">Pos. Regulation of Phosphorylation</text>
<text x="0" y="396.93" font-size="8.9" font-weight="bold" fill="#2b2b2b" stroke="#2b2b2b" stroke-width="0.15" text-anchor="end" font-family="Liberation Sans, sans-serif">Iron Ion Transport</text>
<text x="0" y="407.74" font-size="8.9" font-weight="bold" fill="#2b2b2b" stroke="#2b2b2b" stroke-width="0.15" text-anchor="end" font-family="Liberation Sans, sans-serif">Pos. Regulation of Peptidyl-Thr Phosphorylation</text>
<text x="0" y="418.55" font-size="8.9" font-weight="bold" fill="#2b2b2b" stroke="#2b2b2b" stroke-width="0.15" text-anchor="end" font-family="Liberation Sans, sans-serif">Extracellular Matrix Organization</text>
<text x="0" y="429.35" font-size="8.9" font-weight="bold" fill="#2b2b2b" stroke="#2b2b2b" stroke-width="0.15" text-anchor="end" font-family="Liberation Sans, sans-serif">Zymogen Activation</text>
<text x="0" y="440.16" font-size="8.9" font-weight="bold" fill="#2b2b2b" stroke="#2b2b2b" stroke-width="0.15" text-anchor="end" font-family="Liberation Sans, sans-serif">Pos. Regulation of PI3K/PKB Signaling</text>
<text x="0" y="450.97" font-size="8.9" font-weight="bold" fill="#2b2b2b" stroke="#2b2b2b" stroke-width="0.15" text-anchor="end" font-family="Liberation Sans, sans-serif">Endodermal Cell Differentiation</text>
<text x="0" y="461.77" font-size="8.9" font-weight="bold" fill="#2b2b2b" stroke="#2b2b2b" stroke-width="0.15" text-anchor="end" font-family="Liberation Sans, sans-serif">Defense Response to Fungus</text>
<text x="0" y="472.58" font-size="8.9" font-weight="bold" fill="#2b2b2b" stroke="#2b2b2b" stroke-width="0.15" text-anchor="end" font-family="Liberation Sans, sans-serif">Innate Immune Response in Mucosa</text>
<text x="0" y="483.39" font-size="8.9" font-weight="bold" fill="#2b2b2b" stroke="#2b2b2b" stroke-width="0.15" text-anchor="end" font-family="Liberation Sans, sans-serif">Collagen Catabolic Process</text>
<text x="0" y="494.19" font-size="8.9" font-weight="bold" fill="#2b2b2b" stroke="#2b2b2b" stroke-width="0.15" text-anchor="end" font-family="Liberation Sans, sans-serif">Glutathione Metabolic Process</text>
<text x="0" y="505.00" font-size="8.9" font-weight="bold" fill="#2b2b2b" stroke="#2b2b2b" stroke-width="0.15" text-anchor="end" font-family="Liberation Sans, sans-serif">Neg. Regulation of IL-1 Beta Production</text>
</g>
<line x1="594.4" y1="36.70" x2="597.1" y2="36.70" stroke="#555" stroke-width="0.9"/>
<line x1="594.4" y1="47.51" x2="597.1" y2="47.51" stroke="#555" stroke-width="0.9"/>
<line x1="594.4" y1="58.31" x2="597.1" y2="58.31" stroke="#555" stroke-width="0.9"/>
<line x1="594.4" y1="69.12" x2="597.1" y2="69.12" stroke="#555" stroke-width="0.9"/>
<line x1="594.4" y1="79.93" x2="597.1" y2="79.93" stroke="#555" stroke-width="0.9"/>
<line x1="594.4" y1="90.74" x2="597.1" y2="90.74" stroke="#555" stroke-width="0.9"/>
<line x1="594.4" y1="101.54" x2="597.1" y2="101.54" stroke="#555" stroke-width="0.9"/>
<line x1="594.4" y1="112.35" x2="597.1" y2="112.35" stroke="#555" stroke-width="0.9"/>
<line x1="594.4" y1="123.16" x2="597.1" y2="123.16" stroke="#555" stroke-width="0.9"/>
<line x1="594.4" y1="133.96" x2="597.1" y2="133.96" stroke="#555" stroke-width="0.9"/>
<line x1="594.4" y1="144.77" x2="597.1" y2="144.77" stroke="#555" stroke-width="0.9"/>
<line x1="594.4" y1="155.58" x2="597.1" y2="155.58" stroke="#555" stroke-width="0.9"/>
<line x1="594.4" y1="166.38" x2="597.1" y2="166.38" stroke="#555" stroke-width="0.9"/>
<line x1="594.4" y1="177.19" x2="597.1" y2="177.19" stroke="#555" stroke-width="0.9"/>
<line x1="594.4" y1="188.00" x2="597.1" y2="188.00" stroke="#555" stroke-width="0.9"/>
<line x1="594.4" y1="198.81" x2="597.1" y2="198.81" stroke="#555" stroke-width="0.9"/>
<line x1="594.4" y1="209.61" x2="597.1" y2="209.61" stroke="#555" stroke-width="0.9"/>
<line x1="594.4" y1="220.42" x2="597.1" y2="220.42" stroke="#555" stroke-width="0.9"/>
<line x1="594.4" y1="231.23" x2="597.1" y2="231.23" stroke="#555" stroke-width="0.9"/>
<line x1="594.4" y1="242.03" x2="597.1" y2="242.03" stroke="#555" stroke-width="0.9"/>
<line x1="594.4" y1="252.84" x2="597.1" y2="252.84" stroke="#555" stroke-width="0.9"/>
<line x1="594.4" y1="263.65" x2="597.1" y2="263.65" stroke="#555" stroke-width="0.9"/>
<line x1="594.4" y1="274.45" x2="597.1" y2="274.45" stroke="#555" stroke-width="0.9"/>
<line x1="594.4" y1="285.26" x2="597.1" y2="285.26" stroke="#555" stroke-width="0.9"/>
<line x1="594.4" y1="296.07" x2="597.1" y2="296.07" stroke="#555" stroke-width="0.9"/>
<line x1="594.4" y1="306.88" x2="597.1" y2="306.88" stroke="#555" stroke-width="0.9"/>
<line x1="594.4" y1="317.68" x2="597.1" y2="317.68" stroke="#555" stroke-width="0.9"/>
<line x1="594.4" y1="328.49" x2="597.1" y2="328.49" stroke="#555" stroke-width="0.9"/>
<line x1="594.4" y1="339.30" x2="597.1" y2="339.30" stroke="#555" stroke-width="0.9"/>
<line x1="594.4" y1="350.10" x2="597.1" y2="350.10" stroke="#555" stroke-width="0.9"/>
<line x1="594.4" y1="360.91" x2="597.1" y2="360.91" stroke="#555" stroke-width="0.9"/>
<line x1="594.4" y1="371.72" x2="597.1" y2="371.72" stroke="#555" stroke-width="0.9"/>
<line x1="594.4" y1="382.52" x2="597.1" y2="382.52" stroke="#555" stroke-width="0.9"/>
<line x1="594.4" y1="393.33" x2="597.1" y2="393.33" stroke="#555" stroke-width="0.9"/>
<line x1="594.4" y1="404.14" x2="597.1" y2="404.14" stroke="#555" stroke-width="0.9"/>
<line x1="594.4" y1="414.94" x2="597.1" y2="414.94" stroke="#555" stroke-width="0.9"/>
<line x1="594.4" y1="425.75" x2="597.1" y2="425.75" stroke="#555" stroke-width="0.9"/>
<line x1="594.4" y1="436.56" x2="597.1" y2="436.56" stroke="#555" stroke-width="0.9"/>
<line x1="594.4" y1="447.37" x2="597.1" y2="447.37" stroke="#555" stroke-width="0.9"/>
<line x1="594.4" y1="458.17" x2="597.1" y2="458.17" stroke="#555" stroke-width="0.9"/>
<line x1="594.4" y1="468.98" x2="597.1" y2="468.98" stroke="#555" stroke-width="0.9"/>
<line x1="594.4" y1="479.79" x2="597.1" y2="479.79" stroke="#555" stroke-width="0.9"/>
<line x1="594.4" y1="490.59" x2="597.1" y2="490.59" stroke="#555" stroke-width="0.9"/>
<line x1="594.4" y1="501.40" x2="597.1" y2="501.40" stroke="#555" stroke-width="0.9"/>
<line x1="619.7" y1="509" x2="619.7" y2="511" stroke="#555" stroke-width="0.8"/>
<g transform="translate(676,0) scale(0.87,1)">
<text x="0" y="106.3" font-size="8.6" font-weight="bold" fill="#333" text-anchor="middle" font-family="Liberation Sans, sans-serif">Log<tspan font-size="5.5" dy="2">2</tspan><tspan dy="-2"> Fold</tspan></text>
<text x="0" y="117.2" font-size="8.6" font-weight="bold" fill="#333" text-anchor="middle" font-family="Liberation Sans, sans-serif">Enrichment</text>
<text x="-0.7" y="125.3" font-size="6.5" font-weight="bold" fill="#333" text-anchor="middle" font-family="Liberation Sans, sans-serif">9</text>
<text x="-0.7" y="135.5" font-size="6.5" font-weight="bold" fill="#333" text-anchor="middle" font-family="Liberation Sans, sans-serif">6</text>
<text x="-0.7" y="145.3" font-size="6.5" font-weight="bold" fill="#333" text-anchor="middle" font-family="Liberation Sans, sans-serif">3</text>
</g>
<circle cx="675" cy="140.9" r="14.4" fill="none" stroke="#444" stroke-width="0.7"/>
<circle cx="675" cy="145.6" r="9.7" fill="none" stroke="#444" stroke-width="0.7"/>
<circle cx="675" cy="150.5" r="4.8" fill="none" stroke="#444" stroke-width="0.7"/>
<g transform="translate(675.5,0) scale(0.87,1)">
<text x="0" y="172.8" font-size="8.6" font-weight="bold" fill="#333" text-anchor="middle" font-family="Liberation Sans, sans-serif">Corr. p-Value</text>
<text x="0" y="182.4" font-size="8.6" font-weight="bold" fill="#333" text-anchor="middle" font-family="Liberation Sans, sans-serif">(-Log<tspan font-size="8" dy="1.2">10</tspan><tspan dy="-1.2">)</tspan></text>
</g>
<defs><linearGradient id="gp" x1="0" y1="1" x2="0" y2="0"><stop offset="0" stop-color="#F6F6FB"/><stop offset="0.12" stop-color="#C9CAE6"/><stop offset="0.22" stop-color="#8289C6"/><stop offset="0.31" stop-color="#4A5AAB"/><stop offset="0.40" stop-color="#3C4A9E"/><stop offset="0.49" stop-color="#54408F"/><stop offset="0.58" stop-color="#7E3A7E"/><stop offset="0.67" stop-color="#A3346A"/><stop offset="0.83" stop-color="#CF3149"/><stop offset="1" stop-color="#EC2D38"/></linearGradient></defs>
<rect x="668.8" y="186.7" width="11.5" height="117.4" fill="url(#gp)" stroke="#555" stroke-width="0.7"/>
<g>
<line x1="680.3" y1="187.40" x2="683" y2="187.40" stroke="#555" stroke-width="0.7"/>
<text x="0" y="190.40" font-size="8.4" font-weight="bold" fill="#333" transform="translate(686.4,0) scale(0.9,1)" font-family="Liberation Sans, sans-serif">7</text>
<line x1="680.3" y1="197.65" x2="683" y2="197.65" stroke="#555" stroke-width="0.7"/>
<text x="0" y="200.65" font-size="8.4" font-weight="bold" fill="#333" transform="translate(686.4,0) scale(0.9,1)" font-family="Liberation Sans, sans-serif">6.5</text>
<line x1="680.3" y1="207.89" x2="683" y2="207.89" stroke="#555" stroke-width="0.7"/>
<text x="0" y="210.89" font-size="8.4" font-weight="bold" fill="#333" transform="translate(686.4,0) scale(0.9,1)" font-family="Liberation Sans, sans-serif">6</text>
<line x1="680.3" y1="218.13" x2="683" y2="218.13" stroke="#555" stroke-width="0.7"/>
<text x="0" y="221.13" font-size="8.4" font-weight="bold" fill="#333" transform="translate(686.4,0) scale(0.9,1)" font-family="Liberation Sans, sans-serif">5.5</text>
<line x1="680.3" y1="228.38" x2="683" y2="228.38" stroke="#555" stroke-width="0.7"/>
<text x="0" y="231.38" font-size="8.4" font-weight="bold" fill="#333" transform="translate(686.4,0) scale(0.9,1)" font-family="Liberation Sans, sans-serif">5</text>
<line x1="680.3" y1="238.62" x2="683" y2="238.62" stroke="#555" stroke-width="0.7"/>
<text x="0" y="241.62" font-size="8.4" font-weight="bold" fill="#333" transform="translate(686.4,0) scale(0.9,1)" font-family="Liberation Sans, sans-serif">4.5</text>
<line x1="680.3" y1="248.87" x2="683" y2="248.87" stroke="#555" stroke-width="0.7"/>
<text x="0" y="251.87" font-size="8.4" font-weight="bold" fill="#333" transform="translate(686.4,0) scale(0.9,1)" font-family="Liberation Sans, sans-serif">4</text>
<line x1="680.3" y1="259.12" x2="683" y2="259.12" stroke="#555" stroke-width="0.7"/>
<text x="0" y="262.12" font-size="8.4" font-weight="bold" fill="#333" transform="translate(686.4,0) scale(0.9,1)" font-family="Liberation Sans, sans-serif">3.5</text>
<line x1="680.3" y1="269.36" x2="683" y2="269.36" stroke="#555" stroke-width="0.7"/>
<text x="0" y="272.36" font-size="8.4" font-weight="bold" fill="#333" transform="translate(686.4,0) scale(0.9,1)" font-family="Liberation Sans, sans-serif">3</text>
<line x1="680.3" y1="279.61" x2="683" y2="279.61" stroke="#555" stroke-width="0.7"/>
<text x="0" y="282.61" font-size="8.4" font-weight="bold" fill="#333" transform="translate(686.4,0) scale(0.9,1)" font-family="Liberation Sans, sans-serif">2.5</text>
<line x1="680.3" y1="289.85" x2="683" y2="289.85" stroke="#555" stroke-width="0.7"/>
<text x="0" y="292.85" font-size="8.4" font-weight="bold" fill="#333" transform="translate(686.4,0) scale(0.9,1)" font-family="Liberation Sans, sans-serif">2</text>
<line x1="680.3" y1="300.10" x2="683" y2="300.10" stroke="#555" stroke-width="0.7"/>
<text x="0" y="303.10" font-size="8.4" font-weight="bold" fill="#333" transform="translate(686.4,0) scale(0.9,1)" font-family="Liberation Sans, sans-serif">1.5</text>
</g>
</svg>
</body></html>
